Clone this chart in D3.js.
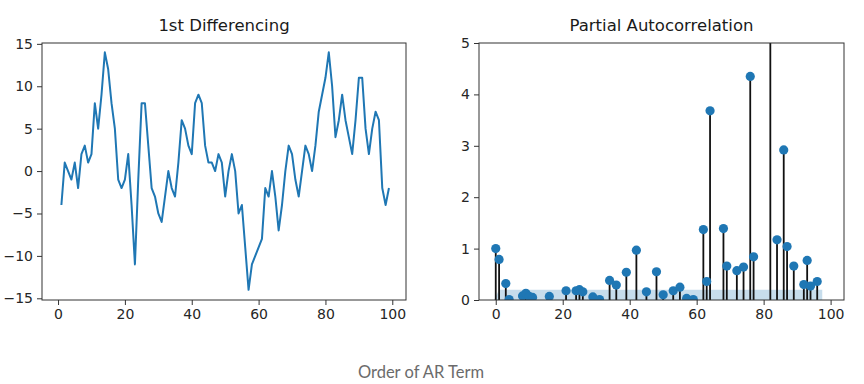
<!DOCTYPE html>
<html>
<head>
<meta charset="utf-8">
<script src="https://cdnjs.cloudflare.com/ajax/libs/d3/7.8.5/d3.min.js"></script>
<style>
    body { margin: 0; background: #fff; }
    svg text { font-family: "DejaVu Sans", sans-serif; }
    .axis text { font-size: 14px; fill: #262626; }
    .axis line { stroke: #333; }
    .axis path { display: none; }
    .title { font-size: 16.5px; fill: #1a1a1a; }
    .caption { font-family: "Lato", sans-serif !important; font-size: 16.5px; fill: #6b6b6b; }
</style>
</head>
<body>
<svg id="chart" width="864" height="384"></svg>
<script>

// 1st differencing of the series, x = 1 .. 99
var diffValues = [-4, 1, 0, -1, 1, -2, 2, 3, 1, 2,
    8, 5, 9, 14, 12, 8, 5, -1, -2, -1,
    2, -4, -11, -1, 8, 8, 3, -2, -3, -5,
    -6, -3, 0, -2, -3, 1, 6, 5, 3, 2,
    8, 9, 8, 3, 1, 1, 0, 2, 1, -3,
    0, 2, 0, -5, -4, -9, -14, -11, -10, -9,
    -8, -2, -3, 0, -3, -7, -4, 0, 3, 2,
    -1, -3, 0, 3, 2, 0, 3, 7, 9, 11,
    14, 10, 4, 6, 9, 6, 4, 2, 6, 11,
    11, 5, 2, 5, 7, 6, -2, -4, -2];

var diffTicksY = [-15, -10, -5, 0, 5, 10, 15];
var ticksX = [0, 20, 40, 60, 80, 100];

// partial autocorrelation, only the lags that show above zero
var pacfLags = [0, 1, 3, 4, 8, 9, 10, 11, 16, 21,
    24, 25, 26, 29, 31, 34, 36, 39, 42, 45,
    48, 50, 53, 55, 57, 59, 62, 63, 64, 68,
    69, 72, 74, 76, 77, 82, 84, 86, 87, 89,
    92, 93, 94, 96];
var pacfValues = [1.0, 0.79, 0.32, 0.01, 0.08, 0.13, 0.07, 0.05, 0.07, 0.18,
    0.18, 0.2, 0.16, 0.06, 0.01, 0.38, 0.29, 0.54, 0.97, 0.16,
    0.55, 0.1, 0.18, 0.25, 0.03, 0.01, 1.37, 0.36, 3.68, 1.39,
    0.66, 0.57, 0.64, 4.35, 0.84, 6.5, 1.17, 2.92, 1.04, 0.66,
    0.3, 0.77, 0.27, 0.36];
var pacfTicksY = [0, 1, 2, 3, 4, 5];

// confidence band (1.96 / sqrt(n)) over the lags
var bandLags = [-0.5, 1, 97.5];
var bandUpper = [0, 0.197, 0.197];

var blue = "#1f77b4";
var svg = d3.select("#chart");


/*
 *  Frame, title and ticks for one panel
 */
function makePanel(box, xDomain, yDomain, yTicks, title) {
    var p = {};
    p.x = d3.scaleLinear().domain(xDomain).range([box.left, box.right]);
    p.y = d3.scaleLinear().domain(yDomain).range([box.bottom, box.top]);

    p.g = svg.append("g");

    var clipId = "clip" + Math.round(box.left);
    svg.append("clipPath").attr("id", clipId)
        .append("rect")
        .attr("x", box.left).attr("y", box.top)
        .attr("width", box.right - box.left)
        .attr("height", box.bottom - box.top);
    p.plot = p.g.append("g").attr("clip-path", "url(#" + clipId + ")");

    p.g.append("g")
        .attr("class", "axis")
        .attr("transform", "translate(0," + box.bottom + ")")
        .call(d3.axisBottom(p.x).tickValues(ticksX).tickSize(5).tickPadding(4));

    p.g.append("g")
        .attr("class", "axis")
        .attr("transform", "translate(" + box.left + ",0)")
        .call(d3.axisLeft(p.y).tickValues(yTicks).tickSize(5).tickPadding(4)
            .tickFormat(function (d) { return d < 0 ? "\u2212" + Math.abs(d) : d; }));

    p.frame = function () {
        p.g.append("rect")
            .attr("x", box.left).attr("y", box.top)
            .attr("width", box.right - box.left)
            .attr("height", box.bottom - box.top)
            .attr("fill", "none")
            .attr("stroke", "#333")
            .attr("stroke-width", 1);
    };

    p.g.append("text")
        .attr("class", "title")
        .attr("x", (box.left + box.right) / 2)
        .attr("y", 31)
        .attr("text-anchor", "middle")
        .text(title);

    return p;
}


// left panel - differenced series
var left = makePanel({ left: 42, right: 406, top: 43, bottom: 300 },
    [-4.8, 104.1], [-15.2, 15.1], diffTicksY, "1st Differencing");

var line = d3.line()
    .x(function (d, i) { return left.x(i + 1); })
    .y(function (d) { return left.y(d); });

left.plot.append("path")
    .datum(diffValues)
    .attr("d", line)
    .attr("fill", "none")
    .attr("stroke", blue)
    .attr("stroke-width", 2)
    .attr("stroke-linejoin", "round");

left.frame();


// right panel - partial autocorrelation stems
var right = makePanel({ left: 479, right: 844, top: 43, bottom: 300 },
    [-5, 104], [0, 5], pacfTicksY, "Partial Autocorrelation");

var band = d3.area()
    .x(function (d, i) { return right.x(bandLags[i]); })
    .y0(right.y(0))
    .y1(function (d) { return right.y(d); });

right.plot.append("path")
    .datum(bandUpper)
    .attr("d", band)
    .attr("fill", blue)
    .attr("fill-opacity", 0.25);

var pacf = pacfLags.map(function (lag, i) { return { lag: lag, value: pacfValues[i] }; });

right.plot.selectAll(".stem").data(pacf)
    .enter().append("line")
    .attr("class", "stem")
    .attr("x1", function (d) { return right.x(d.lag); })
    .attr("x2", function (d) { return right.x(d.lag); })
    .attr("y1", right.y(0))
    .attr("y2", function (d) { return right.y(d.value); })
    .attr("stroke", "#111")
    .attr("stroke-width", 1.8);

right.plot.selectAll(".dot").data(pacf)
    .enter().append("circle")
    .attr("class", "dot")
    .attr("cx", function (d) { return right.x(d.lag); })
    .attr("cy", function (d) { return right.y(d.value); })
    .attr("r", 4.6)
    .attr("fill", blue);

right.frame();


// shared caption
svg.append("text")
    .attr("class", "caption")
    .attr("x", 421)
    .attr("y", 378)
    .attr("text-anchor", "middle")
    .text("Order of AR Term");

</script>
</body>
</html>
